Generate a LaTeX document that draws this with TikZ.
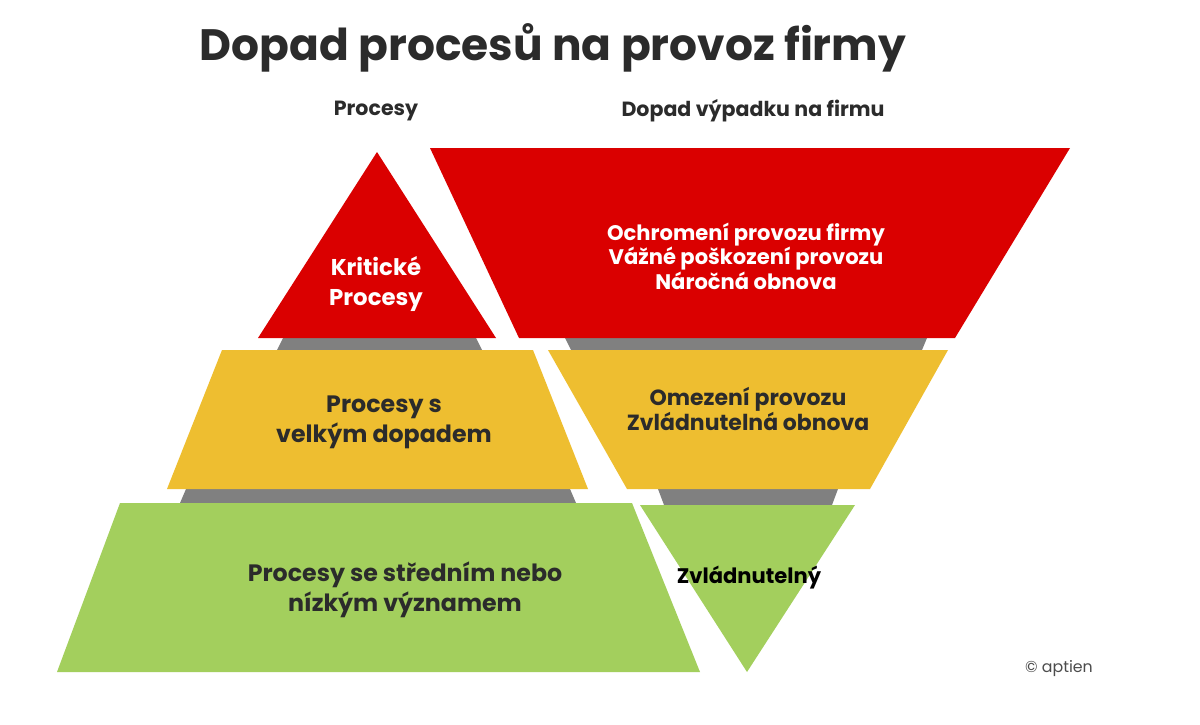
\documentclass[tikz,border=0pt]{standalone}
\usepackage{fontspec}
\setmainfont{Poppins}
\usetikzlibrary{positioning}
\definecolor{redf}{HTML}{DA0000}
\definecolor{yelf}{HTML}{EEBE30}
\definecolor{grnf}{HTML}{A3CF5D}
\definecolor{gapf}{HTML}{808080}
\definecolor{txt}{HTML}{2B2B2B}

\begin{document}
\begin{tikzpicture}[x=0.02cm, y=-0.02cm, every node/.style={font=\bfseries, align=center}]
% styles
\tikzstyle{lblw}=[text=white, font=\bfseries\fontsize{12}{14}\selectfont]
\tikzstyle{lbld}=[text=txt, font=\bfseries\fontsize{13.5}{17}\selectfont]
\tikzstyle{head}=[text=txt, font=\bfseries\fontsize{11.7}{13}\selectfont]
\useasboundingbox[fill=white] (0,0) rectangle (1200,724);

% title and headers
\node[text=txt, font=\bfseries\fontsize{25}{30}\selectfont] (title) at (553,48) {Dopad procesů na provoz firmy};
\node[head] (hproc) at (376,111) {Procesy};
\node[head] (hdop) at (753,111) {Dopad výpadku na firmu};

% left pyramid
\fill[gapf] (283,338) -- (476,338) -- (482,350) -- (277,350) -- cycle;
\fill[gapf] (186,489) -- (570,489) -- (576,503) -- (180,503) -- cycle;
\fill[redf] (377,152) -- (496,338) -- (258,338) -- cycle;
\fill[yelf] (222,350) -- (533,350) -- (588,489) -- (167,489) -- cycle;
\fill[grnf] (120,503) -- (632,503) -- (700,672) -- (57,672) -- cycle;
\node[lblw, font=\bfseries\fontsize{13}{17}\selectfont] (kp) at (376,284) {Kritické\\Procesy};
\node[lbld] (vd) at (384,422) {Procesy s\\velkým dopadem};
\node[lbld] (sn) at (405,590) {Procesy se středním nebo\\nízkým významem};

% right funnel
\fill[gapf] (565,338) -- (927,338) -- (922,350) -- (571,350) -- cycle;
\fill[gapf] (658,489) -- (838,489) -- (832,505) -- (664,505) -- cycle;
\fill[redf] (430,148) -- (1070,148) -- (955,338) -- (519,338) -- cycle;
\fill[yelf] (548,350) -- (948,350) -- (870,489) -- (627,489) -- cycle;
\fill[grnf] (640,505) -- (855,505) -- (747,672) -- cycle;
\node[lblw] (op) at (746,256) {Ochromení provozu firmy\\Vážné poškození provozu\\Náročná obnova};
\node[lbld, font=\bfseries\fontsize{12.5}{14}\selectfont] (oz) at (748,409) {Omezení provozu\\Zvládnutelná obnova};
\node[lbld, text=black, font=\bfseries\fontsize{12}{14}\selectfont] (zv) at (749,578) {Zvládnutelný};

% logo
\node[text=black!70, font=\fontsize{9}{11}\selectfont] (logo) at (1059,669) {© aptien};
\end{tikzpicture}
\end{document}
